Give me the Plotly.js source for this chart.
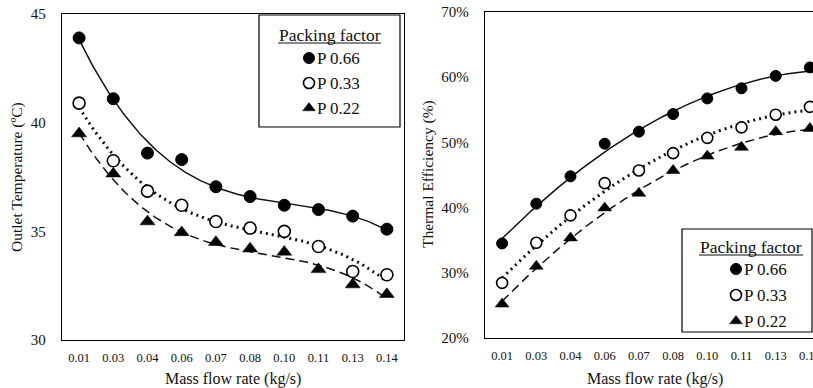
<!DOCTYPE html>
<html><head><meta charset="utf-8">
<script src="https://cdn.plot.ly/plotly-3.0.1.min.js"></script>
<style>html,body{margin:0;padding:0;overflow:hidden;background:#fff;width:813px;height:388px}</style>
</head><body><div id="chart" style="width:830px;height:388px"></div>
<script>
// ---- data ----
const categories = ['0.01','0.03','0.04','0.06','0.07','0.08','0.10','0.11','0.13','0.14'];
const seriesNames = ['P 0.66','P 0.33','P 0.22'];
const outletP066 = [43.9, 41.1, 38.6, 38.3, 37.05, 36.6, 36.2, 36.0, 35.7, 35.1];
const outletP033 = [40.9, 38.25, 36.85, 36.2, 35.45, 35.15, 35.0, 34.3, 33.15, 33.0];
const outletP022 = [39.5, 37.65, 35.45, 34.95, 34.5, 34.2, 34.05, 33.25, 32.55, 32.1];
const effP066 = [34.5, 40.6, 44.8, 49.8, 51.65, 54.35, 56.75, 58.3, 60.2, 61.5];
const effP033 = [28.45, 34.6, 38.8, 43.75, 45.7, 48.35, 50.7, 52.3, 54.25, 55.45];
const effP022 = [25.2, 31.0, 35.35, 39.95, 42.2, 45.7, 47.9, 49.25, 51.65, 52.15];
const yTicksTemp = [30, 35, 40, 45];
const yTicksEff = [20, 30, 40, 50, 60, 70];

// ---- layout helpers ----
const W = 830, H = 388;
const px = x => x / W;
const py = y => 1 - y / H;
const FONT = 'Liberation Serif, Times New Roman, serif';
const INK = '#111';

// least-squares polynomial trendline (like a spreadsheet trendline), x = 1..n
function polyfit(xs, ys, order) {
  const n = order + 1;
  const A = Array.from({length: n}, () => new Array(n + 1).fill(0));
  for (let i = 0; i < xs.length; i++) {
    for (let r = 0; r < n; r++) {
      for (let c = 0; c < n; c++) A[r][c] += Math.pow(xs[i], r + c);
      A[r][n] += ys[i] * Math.pow(xs[i], r);
    }
  }
  for (let k = 0; k < n; k++) {
    let p = k;
    for (let r = k + 1; r < n; r++) if (Math.abs(A[r][k]) > Math.abs(A[p][k])) p = r;
    [A[k], A[p]] = [A[p], A[k]];
    for (let r = 0; r < n; r++) {
      if (r === k) continue;
      const f = A[r][k] / A[k][k];
      for (let c = k; c <= n; c++) A[r][c] -= f * A[k][c];
    }
  }
  return A.map((row, k) => row[n] / row[k]);
}
function trend(ys, order) {
  const xs = ys.map((_, i) => i + 1);
  const co = polyfit(xs, ys, order);
  const cx = [], cy = [];
  for (let t = 0; t <= (ys.length - 1) * 20; t++) {
    const xi = t / 20;
    let v = 0;
    co.forEach((c, k) => { v += c * Math.pow(xi + 1, k); });
    cx.push(xi); cy.push(v);
  }
  return {x: cx, y: cy};
}

const idx = categories.map((_, i) => i);
const lineStyles = [
  {color: INK, width: 1.5, dash: 'solid'},
  {color: INK, width: 3, dash: '2px,4px'},
  {color: INK, width: 1.5, dash: '9px,5px'}
];
const markerStyles = [
  {symbol: 'circle', color: '#000', line: {color: '#000', width: 1}},
  {symbol: 'circle', color: '#fff', line: {color: '#000', width: 1.6}},
  {symbol: 'triangle-up', color: '#000', line: {color: '#000', width: 0.5}}
];

const traces = [];
function addPanel(seriesList, order, xa, ya, msize) {
  seriesList.forEach((ys, s) => {
    const tr = trend(ys, order);
    traces.push({x: tr.x, y: tr.y, xaxis: xa, yaxis: ya, mode: 'lines', line: lineStyles[s],
      hoverinfo: 'skip', showlegend: false});
  });
  seriesList.forEach((ys, s) => {
    traces.push({x: idx, y: ys, xaxis: xa, yaxis: ya, mode: 'markers', name: seriesNames[s],
      marker: Object.assign({size: s === 2 ? msize + 1 : msize}, markerStyles[s]), showlegend: false});
  });
}
addPanel([outletP066, outletP033, outletP022], 3, 'x', 'y', 12);
addPanel([effP066, effP033, effP022], 2, 'x2', 'y2', 11);

// custom legend symbols on a full-figure pixel overlay axis
function legendBlock(cx, rowsY, textX, size) {
  seriesNames.forEach((nm, s) => {
    traces.push({x: [cx], y: [rowsY[s]], xaxis: 'x3', yaxis: 'y3', mode: 'markers',
      marker: Object.assign({size: size}, markerStyles[s]), hoverinfo: 'skip', showlegend: false});
  });
}
const leftRows = [58, 83, 108];
const rightRows = [269, 295, 321];
legendBlock(309, leftRows, 315, 11);
legendBlock(736, rightRows, 743, 11);

const axisCommon = {
  showline: true, mirror: true, linecolor: '#000', linewidth: 1.2,
  showgrid: false, zeroline: false, ticks: '', fixedrange: true
};
const xCommon = Object.assign({}, axisCommon, {
  range: [-0.5, 9.5], tickmode: 'array', tickvals: idx, ticktext: categories,
  tickfont: {family: FONT, size: 12.5, color: INK}, ticklabelstandoff: 6
});

const annFont = s => ({family: FONT, size: s, color: INK});
const annotations = [
  {text: 'Mass flow rate (kg/s)', x: px(233), y: py(379), xref: 'paper', yref: 'paper', showarrow: false,
   xanchor: 'center', yanchor: 'middle', font: annFont(16)},
  {text: 'Mass flow rate (kg/s)', x: px(655), y: py(379), xref: 'paper', yref: 'paper', showarrow: false,
   xanchor: 'center', yanchor: 'middle', font: annFont(16)},
  {text: 'Outlet Temperature (ºC)', x: px(17), y: py(177), xref: 'paper', yref: 'paper', showarrow: false,
   xanchor: 'center', yanchor: 'middle', textangle: -90, font: annFont(15.5)},
  {text: 'Thermal Efficiency (%)', x: px(428), y: py(174), xref: 'paper', yref: 'paper', showarrow: false,
   xanchor: 'center', yanchor: 'middle', textangle: -90, font: annFont(15.5)},
  {text: 'Packing factor', x: px(330), y: py(35), xref: 'paper', yref: 'paper', showarrow: false,
   xanchor: 'center', yanchor: 'middle', font: annFont(17.5)},
  {text: 'Packing factor', x: px(751), y: py(247), xref: 'paper', yref: 'paper', showarrow: false,
   xanchor: 'center', yanchor: 'middle', font: annFont(17.5)}
];
seriesNames.forEach((nm, s) => {
  annotations.push({text: nm, x: px(315), y: py(leftRows[s]), xref: 'paper', yref: 'paper', showarrow: false,
    xanchor: 'left', yanchor: 'middle', font: annFont(17)});
  annotations.push({text: nm, x: px(742), y: py(rightRows[s]), xref: 'paper', yref: 'paper', showarrow: false,
    xanchor: 'left', yanchor: 'middle', font: annFont(17)});
});

const shapes = [
  {type: 'rect', xref: 'paper', yref: 'paper', x0: px(259), x1: px(400), y0: py(15), y1: py(127),
   line: {color: '#000', width: 1.2}, fillcolor: 'rgba(0,0,0,0)'},
  {type: 'rect', xref: 'paper', yref: 'paper', x0: px(682), x1: px(812), y0: py(229), y1: py(332),
   line: {color: '#000', width: 1.2}, fillcolor: 'rgba(0,0,0,0)'},
  {type: 'line', xref: 'paper', yref: 'paper', x0: px(278), x1: px(381), y0: py(43), y1: py(43),
   line: {color: INK, width: 1}},
  {type: 'line', xref: 'paper', yref: 'paper', x0: px(699), x1: px(803), y0: py(255), y1: py(255),
   line: {color: INK, width: 1}}
];

const layout = {
  width: W, height: H, autosize: false,
  margin: {l: 0, r: 0, t: 0, b: 0, pad: 0},
  paper_bgcolor: '#fff', plot_bgcolor: 'rgba(0,0,0,0)',
  showlegend: false,
  font: {family: FONT, color: INK},
  xaxis: Object.assign({}, xCommon, {domain: [px(62), px(404)], anchor: 'y'}),
  yaxis: Object.assign({}, axisCommon, {domain: [py(340), py(14)], anchor: 'x', range: [30, 45],
    tickmode: 'array', tickvals: yTicksTemp, tickfont: {family: FONT, size: 15, color: INK}, ticklabelstandoff: 12}),
  xaxis2: Object.assign({}, xCommon, {domain: [px(485), px(827)], anchor: 'y2'}),
  yaxis2: Object.assign({}, axisCommon, {domain: [py(338), py(12)], anchor: 'x2', range: [20, 70],
    tickmode: 'array', tickvals: yTicksEff, ticktext: yTicksEff.map(v => v + '%'),
    tickfont: {family: FONT, size: 15, color: INK}, ticklabelstandoff: 12}),
  xaxis3: {domain: [0, 1], range: [0, W], visible: false, fixedrange: true, anchor: 'y3'},
  yaxis3: {domain: [0, 1], range: [H, 0], visible: false, fixedrange: true, anchor: 'x3'},
  annotations: annotations,
  shapes: shapes
};

Plotly.newPlot('chart', traces, layout, {displayModeBar: false, staticPlot: true});
</script></body></html>
